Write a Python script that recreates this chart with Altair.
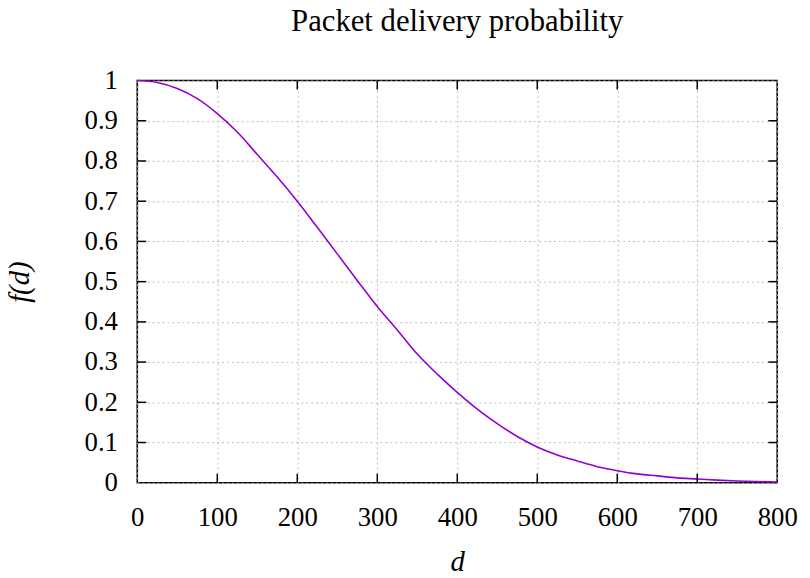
import altair as alt
import pandas as pd

# Curve
d_vals = [0, 25, 50, 75, 100, 125, 150, 175, 200, 225, 250, 275, 300, 325, 350,
          375, 400, 425, 450, 475, 500, 525, 550, 575, 600, 625, 650, 675, 700,
          725, 750, 775, 800]
f_vals = [1.0, 0.995, 0.98, 0.955, 0.918, 0.872, 0.816, 0.76, 0.70, 0.635, 0.569,
          0.503, 0.438, 0.38, 0.32, 0.27, 0.2246, 0.183, 0.147, 0.115, 0.089,
          0.069, 0.054, 0.040, 0.030, 0.022, 0.017, 0.012, 0.0094, 0.0065,
          0.0045, 0.003, 0.002]

x_ticks = [0, 100, 200, 300, 400, 500, 600, 700, 800]
y_ticks = [0, 0.1, 0.2, 0.3, 0.4, 0.5, 0.6, 0.7, 0.8, 0.9, 1]

W = 646
H = 406
TICK = 9
FONT = "'Liberation Serif', 'DejaVu Serif', serif"

df = pd.DataFrame({"d": d_vals, "f": f_vals})
xt = pd.DataFrame({"d": x_ticks[1:-1]})
yt = pd.DataFrame({"f": y_ticks[1:-1]})

xscale = alt.Scale(domain=[0, 800], nice=False, zero=False)
yscale = alt.Scale(domain=[0, 1], nice=False)

line = alt.Chart(df).mark_line(color="#9400D3", strokeWidth=1.6,
                               interpolate="monotone").encode(
    x=alt.X("d:Q", scale=xscale,
            axis=alt.Axis(values=x_ticks, format="d", title="d",
                          titleFontStyle="italic", titleFontWeight="normal",
                          titleFont=FONT, titleFontSize=29, titleColor="black",
                          titleY=80, titleBaseline="middle",
                          labelFont=FONT, labelFontSize=27, labelColor="black",
                          labelPadding=22, tickSize=0, domain=False,
                          grid=True, gridColor="#bcbcbc", gridDash=[2, 3],
                          gridWidth=1, labelFlush=False)),
    y=alt.Y("f:Q", scale=yscale,
            axis=alt.Axis(values=y_ticks, title="f(d)",
                          labelExpr="datum.value == 0 ? '0' : datum.value == 1 ? '1' : format(datum.value, '.1f')",
                          titleFontStyle="italic", titleFontWeight="normal",
                          titleFont=FONT, titleFontSize=29, titleColor="black",
                          titleX=-119, titleY=H / 2, titleAngle=-90,
                          titleBaseline="middle", titleAlign="center",
                          labelFont=FONT, labelFontSize=27, labelColor="black",
                          labelPadding=20, tickSize=0, domain=False,
                          grid=True, gridColor="#bcbcbc", gridDash=[2, 3],
                          gridWidth=1, labelFlush=False)),
)

tick_style = dict(color="black", strokeWidth=1.5)
bottom = alt.Chart(xt).mark_rule(**tick_style).encode(
    x=alt.X("d:Q", scale=xscale), y=alt.value(H), y2=alt.value(H - TICK))
top = alt.Chart(xt).mark_rule(**tick_style).encode(
    x=alt.X("d:Q", scale=xscale), y=alt.value(0), y2=alt.value(TICK))
left = alt.Chart(yt).mark_rule(**tick_style).encode(
    y=alt.Y("f:Q", scale=yscale), x=alt.value(0), x2=alt.value(TICK))
right = alt.Chart(yt).mark_rule(**tick_style).encode(
    y=alt.Y("f:Q", scale=yscale), x=alt.value(W), x2=alt.value(W - TICK))

chart = alt.layer(line, bottom, top, left, right).properties(
    width=W, height=H,
    title=alt.TitleParams("Packet delivery probability", font=FONT, fontSize=31,
                          fontWeight="normal", color="black", anchor="middle",
                          baseline="alphabetic", offset=5),
    autosize=alt.AutoSizeParams(type="none"),
    padding={"left": 130.5, "top": 70.5, "right": 25, "bottom": 100},
    background="white",
).configure_view(stroke="black", strokeWidth=1.6).configure_axis(
    labelFont=FONT, titleFont=FONT
)

chart.save("out.html", embed_options={"renderer": "svg", "actions": False})
